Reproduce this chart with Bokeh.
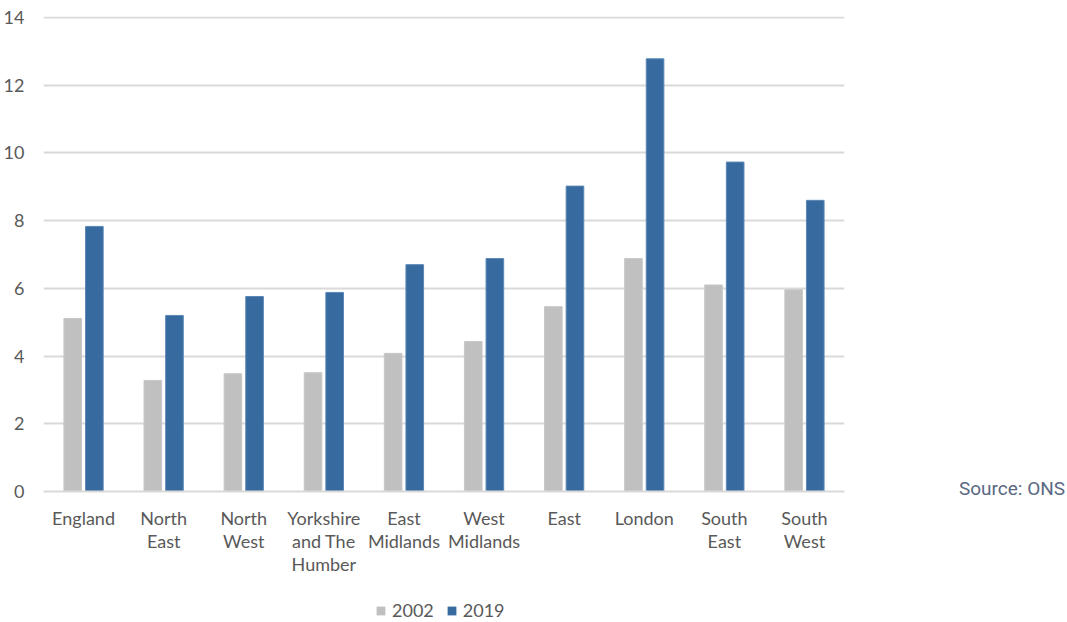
from bokeh.plotting import figure
from bokeh.models import ColumnDataSource, FactorRange, Legend, LegendItem, FixedTicker, Div
from bokeh.layouts import row, column
from bokeh.transform import dodge
from bokeh.embed import file_html
from bokeh.resources import INLINE

regions = ["England", "North\nEast", "North\nWest", "Yorkshire\nand The\nHumber", "East\nMidlands",
           "West\nMidlands", "East", "London", "South\nEast", "South\nWest"]
v2002 = [5.11, 3.28, 3.48, 3.51, 4.08, 4.43, 5.46, 6.88, 6.10, 5.96]
v2019 = [7.83, 5.20, 5.76, 5.88, 6.70, 6.88, 9.02, 12.78, 9.73, 8.60]
series = ["2002", "2019"]
colors = ["#C0C0C0", "#376A9E"]
y_ticks = [0, 2, 4, 6, 8, 10, 12, 14]
source_text = "Source: ONS"

src = ColumnDataSource(dict(region=regions, a=v2002, b=v2019))

FONT = "Lato"
TXT = "#595959"

p = figure(x_range=FactorRange(*regions), y_range=(0, 14.03), width=846, height=590,
           output_backend="svg", toolbar_location=None,
           min_border_left=37, min_border_top=16, min_border_right=2, min_border_bottom=99)
p.outline_line_color = None

p.vbar(x=dodge("region", -0.135, range=p.x_range), top="a", width=0.22, source=src,
       fill_color=colors[0], line_color="#C8C8C8", line_width=1)
p.vbar(x=dodge("region", 0.135, range=p.x_range), top="b", width=0.22, source=src,
       fill_color=colors[1], line_color="#5B87B6", line_width=1)

p.yaxis.ticker = FixedTicker(ticks=y_ticks)
p.yaxis.axis_line_color = None
p.yaxis.major_tick_line_color = None
p.yaxis.minor_tick_line_color = None
p.yaxis.major_label_text_font = FONT
p.yaxis.major_label_text_font_size = "18px"
p.yaxis.major_label_text_color = TXT
p.yaxis.major_label_standoff = 13

p.xaxis.axis_line_color = "#D9D9D9"
p.xaxis.axis_line_width = 2
p.xaxis.major_tick_line_color = None
p.xaxis.minor_tick_line_color = None
p.xaxis.major_label_text_font = FONT
p.xaxis.major_label_text_font_size = "18px"
p.xaxis.major_label_text_color = TXT
p.xaxis.major_label_standoff = 9
p.xaxis.major_label_text_line_height = 1.05

p.xgrid.grid_line_color = None
p.ygrid.grid_line_color = "#D9D9D9"
p.ygrid.grid_line_width = 2

# legend strip: zero-size proxy glyphs only lend their colours to the legend swatches
lf = figure(width=846, height=32, x_range=(0, 1), y_range=(0, 1), output_backend="svg",
            toolbar_location=None, min_border=0)
lf.axis.visible = False
lf.grid.visible = False
lf.outline_line_color = None
lr = [lf.vbar(x=[0.99], top=[0], bottom=[0], width=0, fill_color=c, line_color=c, line_width=0)
      for c in colors]
legend = Legend(items=[LegendItem(label=s, renderers=[r]) for s, r in zip(series, lr)],
                orientation="horizontal", location=(375, 1),
                glyph_width=11, glyph_height=11, label_text_font=FONT,
                label_text_font_size="18px", label_text_color=TXT,
                background_fill_alpha=0, border_line_color=None, spacing=12,
                label_standoff=6, padding=0, margin=0)
lf.add_layout(legend, "center")

div = Div(text=source_text, width=100, height=30, margin=(475, 0, 0, 113),
          styles={"font-family": "Roboto", "font-size": "19px", "color": "#5A6882",
                  "text-align": "left", "white-space": "nowrap"})

layout = column(row(p, div), lf)
open("out.html", "w").write(file_html(layout, INLINE))
